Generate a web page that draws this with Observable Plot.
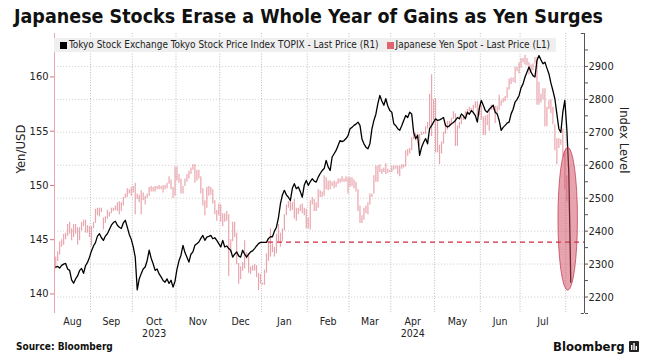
<!DOCTYPE html>
<html>
<head>
<meta charset="utf-8">
<script src="https://cdn.jsdelivr.net/npm/d3@7"></script>
<script src="https://cdn.jsdelivr.net/npm/@observablehq/plot@0.6"></script>
<style>
  html, body { margin: 0; padding: 0; background: #fff; }
  #wrap { position: relative; width: 646px; height: 361px; overflow: hidden; font-family: "DejaVu Sans Condensed", "DejaVu Sans", sans-serif; }
  #title { position: absolute; left: 14px; top: 5px; font-size: 19.5px; font-weight: bold; color: #111; white-space: nowrap; }
  #chart { position: absolute; left: 0; top: 31px; }
  #legend { position: absolute; left: 54px; top: 38px; width: 502px; height: 14px; background: #efefef; font-size: 9.95px; color: #222; white-space: nowrap; line-height: 14px; }
  #legend .sw { display: inline-block; width: 7px; height: 7px; margin: 0 2px 0 0; vertical-align: -0.5px; }
  #source { position: absolute; left: 16px; top: 341px; font-size: 10px; font-weight: bold; color: #111; }
  #brand { position: absolute; left: 553px; top: 339px; font-size: 13px; font-weight: bold; color: #111; }
</style>
</head>
<body>
<div id="wrap">
  <div id="title">Japanese Stocks Erase a Whole Year of Gains as Yen Surges</div>
  <div id="chart"></div>
  <div id="legend"><span style="margin-left:6px"></span><span class="sw" style="background:#000"></span>Tokyo Stock Exchange Tokyo Stock Price Index TOPIX - Last Price (R1)<span style="margin-left:8px"></span><span class="sw" style="background:#e0646f"></span>Japanese Yen Spot - Last Price (L1)</div>
  <div id="source">Source: Bloomberg</div>
  <div id="brand">Bloomberg <svg width="10" height="11" style="vertical-align:-1px"><rect x="0" y="0" width="10" height="11" rx="1" fill="#222"/><rect x="2" y="4" width="1.4" height="5" fill="#fff"/><rect x="4.3" y="2" width="1.4" height="7" fill="#fff"/><rect x="6.6" y="5" width="1.4" height="4" fill="#fff"/></svg></div>
</div>
<script>
// ---------------- DATA ----------------
// Business-day series (every weekday), first value on seriesStart
const seriesStart = "2023-08-08";

// TOPIX daily close (right axis, R1)
const topix = [
  // Aug 2023 (from Aug 8)
  2291,2293,2288,2296,2300,2302,2285,2281,2252,2242,2255,2264,2280,2287,2272,2295,2305,2321,
  // Sep
  2340,2355,2365,2385,2392,2380,2372,2385,2392,2405,2418,2426,2430,2418,2412,2408,2425,2433,2412,2390,2375,
  // Oct
  2352,2321,2222,2255,2271,2285,2291,2311,2342,2318,2301,2281,2285,2270,2261,2250,2245,2255,2241,2251,2230,2248,
  // Nov
  2285,2310,2327,2357,2335,2321,2306,2330,2337,2357,2362,2367,2378,2387,2372,2382,2384,2387,2377,2380,2372,2362,
  // Dec
  2352,2372,2352,2355,2347,2342,2321,2330,2337,2325,2321,2342,2330,2321,2330,2337,2340,2347,2355,2362,2366,
  // Jan 2024
  2366,2366,2366,2378,2383,2383,2400,2412,2440,2483,2510,2524,2510,2503,2493,2530,2544,2529,2534,2520,2503,2540,2554,
  // Feb
  2539,2550,2559,2552,2549,2564,2575,2584,2590,2615,2595,2584,2625,2635,2645,2660,2675,2672,2675,2681,2690,
  // Mar
  2711,2715,2721,2725,2731,2721,2680,2665,2655,2650,2665,2710,2736,2755,2787,2812,2795,2782,2802,2780,2766,
  // Apr
  2761,2726,2720,2711,2706,2720,2736,2751,2745,2761,2756,2700,2681,2691,2630,2655,2670,2681,2665,2711,2720,2731,
  // May
  2741,2736,2738,2741,2745,2721,2716,2720,2726,2730,2736,2745,2741,2756,2750,2741,2761,2755,2766,2760,2751,2731,2772,
  // Jun
  2797,2782,2766,2761,2770,2776,2782,2761,2756,2736,2706,2715,2721,2728,2731,2756,2770,2792,2800,2812,
  // Jul
  2835,2847,2868,2883,2898,2883,2872,2868,2918,2933,2920,2908,2913,2895,2878,2850,2827,2802,2756,2711,2700,2761,2797,
  // Aug 1, 2, 5
  2711,2580,2245
];

// USD/JPY daily high and low (left axis, L1)
const yenHigh = [
  143.4,143.9,144.8,145.0,145.5,145.6,146.4,146.6,146.0,146.4,146.4,146.1,146.1,146.6,146.8,146.8,146.3,146.2,
  146.2,146.6,147.8,147.9,147.9,147.9,147.0,147.1,147.7,147.5,147.9,147.9,148.1,148.4,148.5,148.4,148.9,149.2,149.7,149.6,149.8,
  149.9,150.2,149.2,149.1,149.5,149.3,149.0,149.2,149.8,149.9,149.8,149.9,149.9,150.0,149.9,150.0,150.0,150.2,150.8,150.5,149.8,151.7,
  151.7,151.0,150.6,149.9,150.6,151.0,151.3,151.6,151.9,151.9,151.4,151.4,150.8,149.7,148.6,149.8,149.9,149.8,149.6,148.6,147.7,148.3,
  148.2,147.4,147.4,147.6,147.3,145.0,146.6,146.6,145.6,142.8,142.5,142.9,144.9,143.8,143.6,142.5,142.6,142.7,142.6,141.9,141.8,
  141.0,142.2,143.7,144.8,146.0,144.6,144.3,145.5,146.4,145.6,146.0,147.3,148.2,148.5,148.8,148.4,148.7,147.9,147.9,148.2,148.3,147.9,147.8,
  147.0,148.6,148.9,148.7,148.4,149.6,149.5,149.4,150.9,150.7,150.4,150.4,150.3,150.4,150.3,150.6,150.6,150.8,150.6,150.8,150.7,
  150.7,150.7,150.5,150.3,149.6,148.1,147.2,147.9,148.1,148.4,149.2,149.2,150.9,151.8,151.8,151.9,151.5,151.6,152.0,151.5,151.4,
  151.8,151.8,151.8,151.8,151.8,151.9,151.9,153.2,153.3,153.4,154.4,154.8,154.8,154.7,154.7,154.9,154.9,155.4,155.8,158.4,160.2,157.9,
  158.0,156.0,153.7,154.0,154.9,155.7,155.9,155.9,156.2,156.8,156.6,155.5,155.8,156.3,156.4,156.8,157.0,157.2,157.1,157.4,157.7,157.7,157.4,
  157.4,156.3,156.4,156.5,157.0,157.4,157.4,157.3,157.3,158.3,157.8,158.0,158.2,159.0,159.8,159.9,159.9,160.9,160.9,161.3,
  161.7,161.7,162.0,161.7,161.3,161.1,161.2,161.8,161.8,159.5,158.4,158.9,158.9,157.2,157.8,157.9,157.2,155.6,154.3,154.3,154.2,155.2,153.1,
  150.9
];
const yenLow = [
  142.3,143.0,143.6,144.3,144.5,145.0,145.3,145.5,144.9,145.2,145.5,144.5,144.9,145.8,146.2,145.6,145.6,145.2,
  144.4,146.0,146.5,147.2,147.1,147.5,145.9,146.5,146.9,147.1,147.4,147.6,147.7,147.6,147.3,147.6,148.1,148.8,148.9,149.2,149.0,
  149.3,147.3,148.7,148.4,147.3,148.6,148.2,148.8,149.0,149.4,149.4,149.4,149.6,149.6,149.6,149.3,149.6,149.7,150.1,149.6,148.8,149.0,
  150.4,150.2,149.2,149.2,149.9,150.3,150.6,151.0,151.4,150.2,150.4,150.6,149.2,148.1,147.2,147.9,149.0,149.1,148.3,147.3,146.7,147.2,
  146.6,146.2,146.6,146.7,141.6,143.8,144.8,145.2,142.7,140.9,141.3,142.1,142.3,143.2,141.9,141.8,142.1,142.1,141.5,140.3,140.9,
  140.8,140.8,141.9,143.0,143.4,143.8,143.4,143.7,144.8,144.3,144.8,145.8,147.2,147.9,147.6,147.7,146.9,146.7,147.3,147.6,147.4,147.2,146.0,
  146.0,145.9,148.2,147.6,147.6,147.9,148.9,148.9,149.0,149.6,149.5,149.6,149.9,149.7,149.8,150.1,150.2,150.3,150.3,150.3,149.2,
  149.8,149.9,149.7,149.4,147.6,146.5,146.5,146.8,147.4,147.3,148.2,148.9,149.2,150.3,150.3,151.2,151.0,151.2,151.0,151.1,151.2,
  151.2,151.4,151.5,151.0,150.8,151.5,151.6,151.7,152.7,152.9,153.2,154.2,154.1,154.2,153.6,154.6,154.7,154.7,155.2,155.4,154.5,156.0,
  153.0,153.0,151.9,152.9,153.8,154.7,155.1,155.3,155.7,156.1,153.6,153.6,155.2,155.6,156.0,156.2,156.5,156.8,156.7,156.8,157.1,156.4,156.4,
  156.0,154.6,154.6,155.5,155.0,156.9,156.9,155.7,156.6,156.9,157.3,157.6,157.7,158.0,158.8,159.3,159.5,159.4,160.5,160.3,
  160.8,161.3,161.1,161.0,160.2,160.3,160.6,161.2,157.4,157.4,157.6,157.9,155.4,155.4,157.0,156.6,155.6,153.2,151.9,153.4,153.7,152.6,149.6,
  148.5
];

// x-axis months (label, first day) and year labels
const monthLabels = ["Aug","Sep","Oct","Nov","Dec","Jan","Feb","Mar","Apr","May","Jun","Jul"];
const monthStarts = ["2023-08-01","2023-09-01","2023-10-01","2023-11-01","2023-12-01","2024-01-01",
                     "2024-02-01","2024-03-01","2024-04-01","2024-05-01","2024-06-01","2024-07-01","2024-08-01"];
const yearLabels = ["2023", "2024"];
const yearUnder = ["Oct", "Apr"];
const xStart = "2023-08-01";      // business-day index origin
const xDomainDays = [4.4, 270.9]; // visible business-day window

// axes
const yenTicks = [140, 145, 150, 155, 160];
const yenDomain = [138.2, 164.0];
const topixTicks = [2200, 2300, 2400, 2500, 2600, 2700, 2800, 2900];
const topixMinor = [2150, 2250, 2350, 2450, 2550, 2650, 2750, 2850, 2950];
const topixDomain = [2150, 3000];

// annotations
const refLevel = [2366.39];            // TOPIX year-end 2023 close
const refStart = ["2024-01-04"];
const ellipseCenter = { date: "2024-08-02", topix: 2436 };
const ellipseHalf = { days: 4.9, points: 217 };

// ---------------- HELPERS ----------------
const parse = s => new Date(s + "T00:00:00Z");
const isWeekday = d => { const w = d.getUTCDay(); return w !== 0 && w !== 6; };
function bizIndex(date) {
  const d = new Date(parse(xStart)); let n = 0;
  while (d < date) { if (isWeekday(d)) n++; d.setUTCDate(d.getUTCDate() + 1); }
  return n;
}
const i0 = bizIndex(parse(seriesStart));
const topixData = topix.map((v, k) => ({ i: i0 + k, v }));
const yenData = yenHigh.map((h, k) => ({ i: i0 + k, high: h, low: yenLow[k] }));

const yenOf = t => yenDomain[0] + (t - topixDomain[0]) * (yenDomain[1] - yenDomain[0]) / (topixDomain[1] - topixDomain[0]);
const topixOf = y => topixDomain[0] + (y - yenDomain[0]) * (topixDomain[1] - topixDomain[0]) / (yenDomain[1] - yenDomain[0]);

const bounds = monthStarts.map(s => bizIndex(parse(s)) - 0.5);
const grid = bounds.filter(b => b > xDomainDays[0] && b < xDomainDays[1]);
const months = monthLabels.map((t, k) => ({
  text: t,
  i: (Math.max(bounds[k], xDomainDays[0]) + Math.min(bounds[k + 1], xDomainDays[1])) / 2
}));
const years = yearLabels.map((t, k) => ({ text: t, i: months.find(m => m.text === yearUnder[k]).i }));

const W = 646, H = 307;
const plot = Plot.plot({
  width: W, height: H,
  marginLeft: 54, marginRight: 62, marginTop: 2, marginBottom: 25,
  style: { fontFamily: "'DejaVu Sans Condensed', 'DejaVu Sans', sans-serif", fontSize: "11px", background: "transparent", color: "#222" },
  x: { type: "linear", domain: xDomainDays, axis: null },
  y: { domain: yenDomain, axis: null },
  marks: [
    Plot.ruleY(topixTicks.map(yenOf), { stroke: "#d4d4d4", strokeDasharray: "1.2,1.8" }),
    Plot.ruleX(grid, { stroke: "#bdbdbd", strokeDasharray: "1,1.6" }),
    Plot.ruleX(yenData, { x: "i", y1: "low", y2: "high", stroke: "#e0808c", strokeOpacity: 0.7, strokeWidth: 1.2 }),
    Plot.ruleY(refLevel.map(yenOf), { x1: bizIndex(parse(refStart[0])), x2: xDomainDays[1], stroke: "#d3283f", strokeWidth: 1.2, strokeDasharray: "5,4" }),
    Plot.line(topixData, { x: "i", y: d => yenOf(d.v), stroke: "#000", strokeWidth: 1.3 }),
    // left axis
    Plot.ruleX([xDomainDays[0]], { stroke: "#e9a6ae" }),
    Plot.axisY(yenTicks, { anchor: "left", tickSize: 4, color: "#e0707e", tickFormat: () => "", label: null }),
    Plot.axisY(yenTicks, { anchor: "left", tickSize: 0, tickPadding: 6, color: "#222", fontSize: 11, label: null }),
    // right axis
    Plot.ruleX([xDomainDays[1]], { stroke: "#555" }),
    Plot.axisY(topixTicks.concat(topixMinor).map(yenOf), { anchor: "right", tickSize: 3, color: "#555", tickFormat: () => "", label: null }),
    Plot.ruleY(yenDomain, { x1: xDomainDays[1] - 1.6, x2: xDomainDays[1], stroke: "#555" }),
    Plot.axisY(topixTicks.map(yenOf), { anchor: "right", tickSize: 0, tickPadding: 4, color: "#222", fontSize: 11, label: null, tickFormat: v => String(Math.round(topixOf(v))) }),
    // axis titles
    Plot.text(["Yen/USD"], { frameAnchor: "left", dx: -34, rotate: -90, fontSize: 13, fill: "#222" }),
    Plot.text(["Index Level"], { frameAnchor: "right", dx: 40, rotate: 90, fontSize: 13, fill: "#222" }),
    // month and year labels
    Plot.text(months, { x: "i", text: "text", frameAnchor: "bottom", lineAnchor: "top", dy: 4, fontSize: 10.5, fill: "#222" }),
    Plot.text(years, { x: "i", text: "text", frameAnchor: "bottom", lineAnchor: "top", dy: 16, fontSize: 10.5, fill: "#222" })
  ]
});
document.getElementById("chart").appendChild(plot);

// ellipse annotation positioned with the plot's own scales
const sx = plot.scale("x"), sy = plot.scale("y");
const fx = sx.apply ? (v => sx.apply(v)) : d3.scaleLinear(sx.domain, sx.range);
const fy = sy.apply ? (v => sy.apply(v)) : d3.scaleLinear(sy.domain, sy.range);
const ci = bizIndex(parse(ellipseCenter.date)) - 0.3;
const cx = fx(ci), cy = fy(yenOf(ellipseCenter.topix));
const rx = Math.abs(fx(ci + ellipseHalf.days) - cx);
const ry = Math.abs(fy(yenOf(ellipseCenter.topix + ellipseHalf.points)) - cy);
const ns = "http://www.w3.org/2000/svg";
const el = document.createElementNS(ns, "ellipse");
el.setAttribute("cx", cx); el.setAttribute("cy", cy);
el.setAttribute("rx", rx); el.setAttribute("ry", ry);
el.setAttribute("fill", "#cf4a5e"); el.setAttribute("fill-opacity", "0.5");
el.setAttribute("stroke", "#c0304a"); el.setAttribute("stroke-opacity", "0.7"); el.setAttribute("stroke-width", "1");
plot.appendChild(el);
</script>
</body>
</html>
